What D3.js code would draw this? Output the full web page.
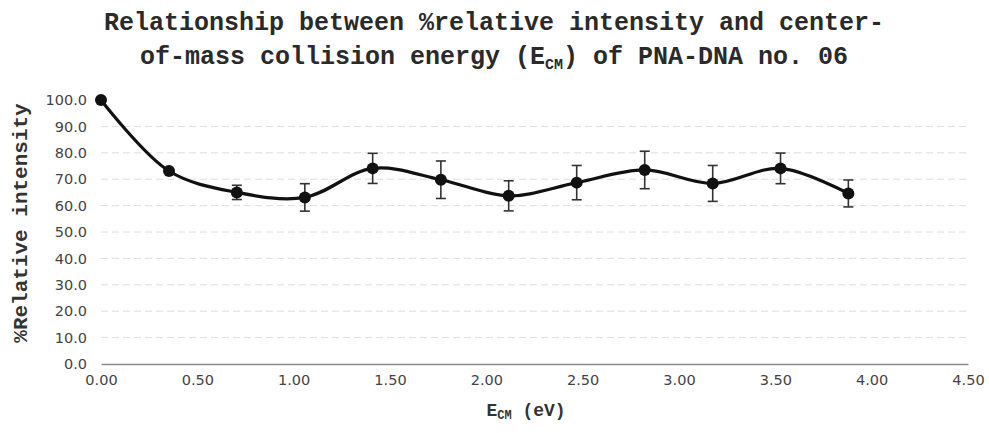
<!DOCTYPE html>
<html>
<head>
<meta charset="utf-8">
<script src="https://cdn.jsdelivr.net/npm/d3@7/dist/d3.min.js"></script>
<style>
  html, body { margin: 0; padding: 0; background: #fff; }
  svg { display: block; }
</style>
</head>
<body>
<svg id="chart" width="989" height="433"></svg>
<script>
// Collision energy (eV, centre-of-mass frame)
const energies = [0.000, 0.353, 0.705, 1.058, 1.410, 1.764, 2.116, 2.469, 2.822, 3.175, 3.527, 3.879];
// % relative intensity of the precursor
const intensity = [100.0, 73.1, 65.0, 63.1, 74.1, 69.8, 63.7, 68.7, 73.5, 68.4, 74.1, 64.6];
// standard deviation (error bars)
const errors = [0, 0, 2.7, 5.2, 5.7, 7.1, 5.7, 6.5, 7.1, 6.8, 5.8, 5.1];

const xTicks = [0, 0.5, 1, 1.5, 2, 2.5, 3, 3.5, 4, 4.5];
const yTicks = [0, 10, 20, 30, 40, 50, 60, 70, 80, 90, 100];

const svg = d3.select("#chart");
const plotLeft = 101, plotRight = 968, plotTop = 100, plotBottom = 364;

const x = d3.scaleLinear().domain([0, 4.5]).range([plotLeft, plotRight]);
const y = d3.scaleLinear().domain([0, 100]).range([plotBottom, plotTop]);

const mono = "'Liberation Mono', 'DejaVu Sans Mono', monospace";
const sans = "'DejaVu Sans', Verdana, sans-serif";

// Title (two lines, with subscript)
const title = svg.append("text")
  .attr("text-anchor", "middle")
  .style("font-family", mono).style("font-weight", "bold")
  .style("font-size", "25px").attr("fill", "#2a2a2a");
title.append("tspan").attr("x", 494).attr("y", 30)
  .text("Relationship between %relative intensity and center-");
const t2 = title.append("tspan").attr("x", 494).attr("y", 64);
t2.append("tspan").text("of-mass collision energy (E");
t2.append("tspan").attr("dy", 5).style("font-size", "15px").text("CM");
t2.append("tspan").attr("dy", -5).text(") of PNA-DNA no. 06");

// Horizontal gridlines
svg.append("g").selectAll("line")
  .data(yTicks.filter(v => v > 0 && v < 100))
  .join("line")
  .attr("x1", plotLeft).attr("x2", plotRight)
  .attr("y1", d => y(d)).attr("y2", d => y(d))
  .attr("stroke", "#dedede").attr("stroke-width", 1)
  .attr("stroke-dasharray", "7,4");

// Y axis
const yAxis = svg.append("g")
  .attr("transform", `translate(${plotLeft},0)`)
  .call(d3.axisLeft(y).tickValues(yTicks).tickFormat(d3.format(".1f")).tickSize(0).tickPadding(14));
yAxis.select(".domain").remove();
yAxis.selectAll("text").style("font-family", sans).style("font-size", "14.5px").attr("fill", "#444");

// X axis
const xAxis = svg.append("g")
  .attr("transform", `translate(0,${plotBottom})`)
  .call(d3.axisBottom(x).tickValues(xTicks).tickFormat(d3.format(".2f")).tickSize(0).tickPadding(11));
xAxis.select(".domain").attr("stroke", "#8a8a8a").attr("stroke-width", 1.5);
xAxis.selectAll("text").style("font-family", sans).style("font-size", "14.5px").attr("fill", "#444");

// Axis titles
svg.append("text")
  .attr("transform", "translate(27,223) rotate(-90)")
  .attr("text-anchor", "middle")
  .style("font-family", mono).style("font-weight", "bold")
  .style("font-size", "21px").attr("fill", "#333")
  .text("%Relative intensity");

const xTitle = svg.append("text")
  .attr("x", 526).attr("y", 416)
  .attr("text-anchor", "middle")
  .style("font-family", mono).style("font-weight", "bold")
  .style("font-size", "18px").attr("fill", "#333");
xTitle.append("tspan").text("E");
xTitle.append("tspan").attr("dy", 3).style("font-size", "12px").text("CM");
xTitle.append("tspan").attr("dy", -3).text("  (eV)");

const pts = energies.map((e, i) => ({ e, v: intensity[i], s: errors[i] }));

// Error bars
const eb = svg.append("g").attr("stroke", "#333").attr("stroke-width", 1.6);
pts.filter(d => d.s > 0).forEach(d => {
  const cx = x(d.e), y1 = y(d.v + d.s), y2 = y(d.v - d.s);
  eb.append("line").attr("x1", cx).attr("x2", cx).attr("y1", y1).attr("y2", y2);
  eb.append("line").attr("x1", cx - 5).attr("x2", cx + 5).attr("y1", y1).attr("y2", y1);
  eb.append("line").attr("x1", cx - 5).attr("x2", cx + 5).attr("y1", y2).attr("y2", y2);
});

// Smoothed series line
svg.append("path")
  .datum(pts)
  .attr("fill", "none").attr("stroke", "#111").attr("stroke-width", 3.2)
  .attr("d", d3.line().x(d => x(d.e)).y(d => y(d.v)).curve(d3.curveCatmullRom.alpha(0.5)));

// Markers
svg.append("g").selectAll("circle")
  .data(pts).join("circle")
  .attr("cx", d => x(d.e)).attr("cy", d => y(d.v))
  .attr("r", 6).attr("fill", "#111");
</script>
</body>
</html>
